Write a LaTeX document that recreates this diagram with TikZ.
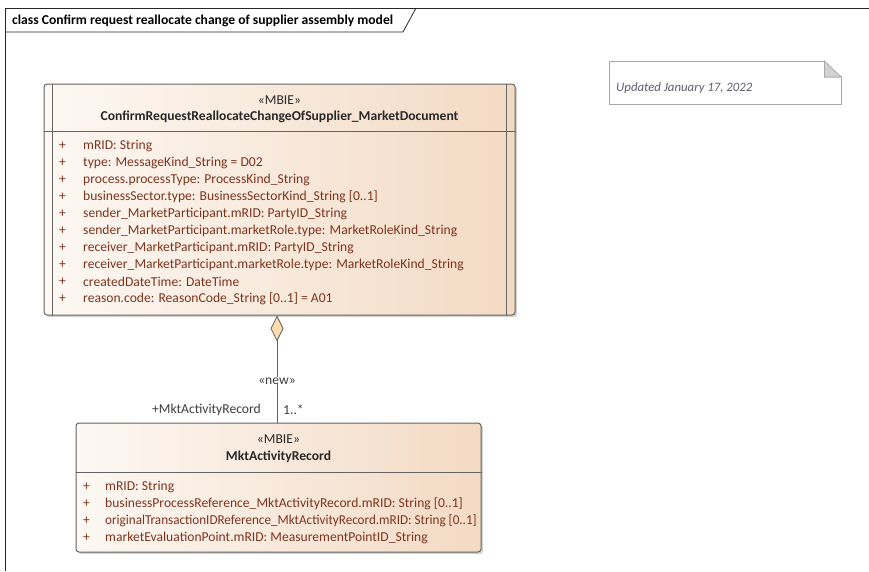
\documentclass[tikz,border=0pt]{standalone}
\usepackage{fontspec}
\usepackage{graphicx}
\setmainfont{Carlito}
\usetikzlibrary{shadows,arrows.meta}
\definecolor{clsL}{RGB}{253,248,243}
\definecolor{clsR}{RGB}{243,218,196}
\definecolor{clsBorder}{RGB}{100,100,100}
\definecolor{attrCol}{RGB}{125,52,30}
\definecolor{headCol}{RGB}{40,40,40}
\definecolor{lblCol}{RGB}{60,60,60}
\definecolor{noteTxt}{RGB}{95,95,110}
\definecolor{noteBorder}{RGB}{170,170,170}
\definecolor{foldFill}{RGB}{210,210,210}
\definecolor{diaFill}{RGB}{250,220,175}
\tikzset{
  classbox/.style={draw=clsBorder, line width=1pt, rounded corners=3pt,
    left color=clsL, right color=clsR,
    drop shadow={shadow xshift=2pt, shadow yshift=-2pt, opacity=0.35}},
  sepline/.style={draw=clsBorder, line width=1pt},
  stereo/.style={font=\fontsize{13.6}{15}\selectfont, text=headCol, inner sep=0pt},
  cname/.style={font=\bfseries\fontsize{13.6}{15}\selectfont, text=headCol, inner sep=0pt},
  attr/.style={font=\fontsize{13.6}{15}\selectfont, text=attrCol, inner sep=0pt, anchor=west},
  lbl/.style={font=\fontsize{13.6}{15}\selectfont, text=lblCol, inner sep=0pt},
  conn/.style={draw=clsBorder, line width=1pt},
}
\begin{document}
\begin{tikzpicture}[x=1pt,y=-1pt]
\useasboundingbox (0,0) rectangle (869,571);
% frame
\draw[line width=0.8pt, draw=black!85] (869,8) -- (5,8) -- (5,571);
\draw[line width=0.8pt, draw=black!85] (5,32) -- (403,32) -- (416,8);
\node[font=\bfseries\fontsize{13.6}{15}\selectfont, anchor=west, inner sep=0pt] (title) at (12,20.5) {class Confirm request reallocate change of supplier assembly model};

% main class
\node[classbox, minimum width=471pt, minimum height=231pt, inner sep=0pt] (main) at (279.5,199.5) {};
\draw[sepline] ([xshift=9pt]main.north west) -- ([xshift=9pt]main.south west);
\draw[sepline] ([xshift=-9pt]main.north east) -- ([xshift=-9pt]main.south east);
\draw[sepline] (main.west |- 0,131) -- (main.east |- 0,131);
\node[stereo] (mst) at (279.5,100) {«MBIE»};
\node[cname] (mnm) at (279.5,117) {ConfirmRequestReallocateChangeOfSupplier\_MarketDocument};
\foreach \t [count=\i] in {
  {mRID: String},
  {type: MessageKind\_String = D02},
  {process.processType: ProcessKind\_String},
  {businessSector.type: BusinessSectorKind\_String [0..1]},
  {sender\_MarketParticipant.mRID: PartyID\_String},
  {sender\_MarketParticipant.marketRole.type: MarketRoleKind\_String},
  {receiver\_MarketParticipant.mRID: PartyID\_String},
  {receiver\_MarketParticipant.marketRole.type: MarketRoleKind\_String},
  {createdDateTime: DateTime},
  {reason.code: ReasonCode\_String [0..1] = A01}} {
  \node[attr] (mp\i) at (59,{146+17*(\i-1)}) {+};
  \node[attr] (ma\i) at (83,{146+17*(\i-1)}) {\t};
}

% MktActivityRecord class
\node[classbox, minimum width=405pt, minimum height=129pt, inner sep=0pt] (mkt) at (278.5,487.5) {};
\draw[sepline] (mkt.west |- 0,472) -- (mkt.east |- 0,472);
\node[stereo] (kst) at (278.5,439) {«MBIE»};
\node[cname] (knm) at (278.5,457) {MktActivityRecord};
\foreach \t [count=\i] in {
  {mRID: String},
  {businessProcessReference\_MktActivityRecord.mRID: String [0..1]},
  {\scalebox{0.965}[1]{originalTransactionIDReference\_MktActivityRecord.mRID: String [0..1]}},
  {marketEvaluationPoint.mRID: MeasurementPointID\_String}} {
  \node[attr] (kp\i) at (83,{487+17*(\i-1)}) {+};
  \node[attr] (ka\i) at (105,{487+17*(\i-1)}) {\t};
}

% aggregation connector
\coordinate (dtop) at (277,0 |- main.south);
\draw[conn, -{Diamond[fill=diaFill, width=13pt, length=26pt, line width=0.8pt]}]
  (mkt.north -| dtop) -- node[pos=0.39, fill=white, inner sep=4pt, lbl] (new) {«new»} (dtop);
\node[lbl, anchor=east] (role) at (261,410) {+MktActivityRecord};
\node[lbl, anchor=west] (mult) at (283,410) {1..*};

% note
\node[draw=noteBorder, fill=white, minimum width=232pt, minimum height=43pt, inner sep=0pt,
  line width=0.8pt] (note) at (725,83) {};
\fill[white] ([xshift=-17pt]note.north east) -- ([xshift=1pt]note.north east) -- ([xshift=1pt,yshift=-16pt]note.north east) -- cycle;
\draw[noteBorder, line width=0.8pt, fill=foldFill] ([xshift=-17pt]note.north east) -- ([xshift=-17pt,yshift=-16pt]note.north east) -- ([yshift=-16pt]note.north east) -- cycle;
\node[font=\itshape\fontsize{12.8}{15}\selectfont, text=noteTxt, anchor=west, inner sep=0pt] (ntxt) at (616,88) {Updated January 17, 2022};
\end{tikzpicture}
\end{document}
